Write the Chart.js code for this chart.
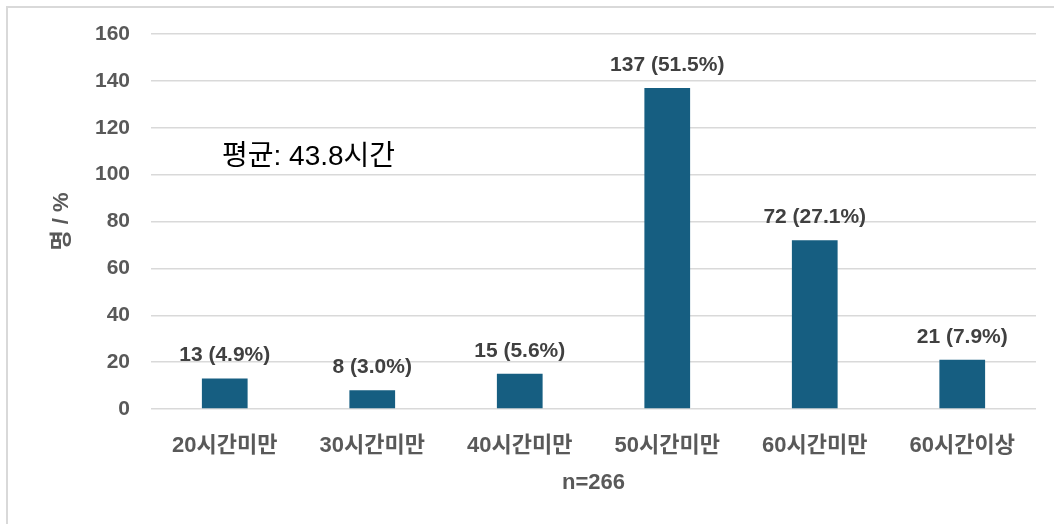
<!DOCTYPE html>
<html lang="ko">
<head>
<meta charset="utf-8">
<title>주당 근무시간 분포</title>
<script src="https://cdn.jsdelivr.net/npm/chart.js@4.4.1/dist/chart.umd.min.js"></script>
<style>
  html, body { margin: 0; padding: 0; background: #ffffff; overflow: hidden; }
  #wrap { position: relative; width: 1054px; height: 524px; }
  #frame { position: absolute; left: 6px; top: 6px; width: 1200px; height: 700px; border: 2px solid #d9d9d9; }
  #chart { position: absolute; left: 0; top: 0; }
</style>
</head>
<body>
<div id="wrap">
  <div id="frame"></div>
  <canvas id="chart" width="1054" height="524"></canvas>
</div>
<script>
// Weekly working hours, grouped by band
const categories = ['20시간미만', '30시간미만', '40시간미만', '50시간미만', '60시간미만', '60시간이상'];
const counts = [13, 8, 15, 137, 72, 21];
const shares = [4.9, 3.0, 5.6, 51.5, 27.1, 7.9];
const yTickValues = [0, 20, 40, 60, 80, 100, 120, 140, 160];
const sampleLabel = 'n=266';
const averageNote = '평균: 43.8시간';

const FONT = '"Liberation Sans", "Noto Sans CJK KR", Arial, sans-serif';
const BAR_COLOR = '#165e81';

// Writes "count (share%)" above every bar
const barValueLabels = {
  id: 'barValueLabels',
  afterDatasetsDraw(chart) {
    const ctx = chart.ctx;
    const meta = chart.getDatasetMeta(0);
    ctx.save();
    ctx.font = 'bold 21px ' + FONT;
    ctx.fillStyle = '#404040';
    ctx.textAlign = 'center';
    ctx.textBaseline = 'middle';
    meta.data.forEach((bar, i) => {
      const text = counts[i] + ' (' + shares[i].toFixed(1) + '%)';
      ctx.fillText(text, bar.x, bar.y - 23);
    });
    ctx.restore();
  }
};

// Average-hours note inside the plot
const averageText = {
  id: 'averageText',
  afterDraw(chart) {
    const { ctx, chartArea } = chart;
    ctx.save();
    ctx.font = '28px ' + FONT;
    ctx.fillStyle = '#000000';
    ctx.textAlign = 'left';
    ctx.textBaseline = 'middle';
    ctx.fillText(averageNote, chartArea.left + 71, chartArea.top + 123);
    ctx.restore();
  }
};

new Chart(document.getElementById('chart'), {
  type: 'bar',
  data: {
    labels: categories,
    datasets: [{
      data: counts,
      backgroundColor: BAR_COLOR,
      borderWidth: 0,
      categoryPercentage: 1.0,
      barPercentage: 0.31
    }]
  },
  options: {
    responsive: false,
    animation: false,
    devicePixelRatio: 1,
    layout: { padding: { left: 49, top: 34, right: 18, bottom: 28 } },
    plugins: {
      legend: { display: false },
      tooltip: { enabled: false }
    },
    scales: {
      x: {
        grid: { display: false, drawTicks: false },
        border: { display: false },
        ticks: {
          color: '#595959',
          font: { family: FONT, size: 22, weight: 'bold' },
          padding: 24,
          maxRotation: 0
        },
        title: {
          display: true,
          text: sampleLabel,
          color: '#595959',
          font: { family: FONT, size: 22, weight: 'bold' },
          padding: { top: 0, bottom: 0 }
        },
        afterFit(scale) { scale.height = 87; }
      },
      y: {
        min: 0,
        max: 160,
        afterBuildTicks(scale) { scale.ticks = yTickValues.map(v => ({ value: v })); },
        grid: { color: '#d9d9d9', lineWidth: 1.5, drawTicks: false },
        border: { display: false },
        ticks: {
          color: '#595959',
          font: { family: FONT, size: 21, weight: 'bold' },
          padding: 21
        },
        title: {
          display: true,
          text: '명 / %',
          color: '#595959',
          font: { family: FONT, size: 22, weight: 'bold' },
          padding: { top: 0, bottom: 0 }
        },
        afterFit(scale) { scale.width = 102; }
      }
    }
  },
  plugins: [barValueLabels, averageText]
});
</script>
</body>
</html>
